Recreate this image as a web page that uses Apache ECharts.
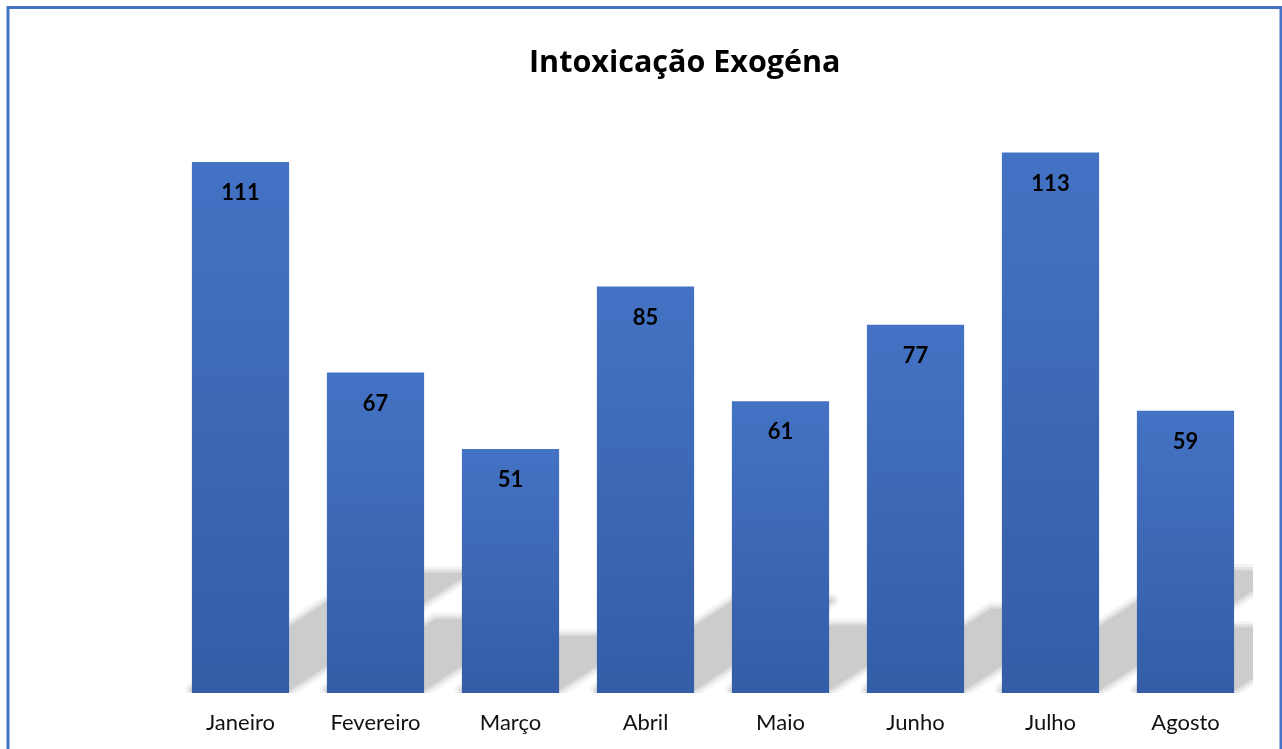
<!DOCTYPE html>
<html>
<head>
<meta charset="utf-8">
<script src="https://cdn.jsdelivr.net/npm/echarts@6/dist/echarts.min.js"></script>
<style>
html,body{margin:0;padding:0;background:#fff;}
#main{width:1282px;height:749px;}
</style>
</head>
<body>
<div id="main"></div>
<script>
const categories = ['Janeiro','Fevereiro','Março','Abril','Maio','Junho','Julho','Agosto'];
const values = [111, 67, 51, 85, 61, 77, 113, 59];
const titleText = 'Intoxicação Exogéna';

const chart = echarts.init(document.getElementById('main'), null, {renderer:'canvas'});
const shadowData = values.map((v,i)=>[i,v]);

const option = {
  backgroundColor:'#ffffff',
  animation:false,
  title:{
    text:titleText,
    left:524,
    top:40,
    textStyle:{fontFamily:'Open Sans',fontWeight:'bold',fontSize:30.5,color:'#000',lineHeight:36}
  },
  graphic:[{
    type:'rect',
    shape:{x:8,y:7.5,width:1273,height:760},
    style:{fill:'none',stroke:'#4472C4',lineWidth:3},
    z:100
  }],
  grid:{left:173,right:29,top:119,bottom:56},
  xAxis:{
    type:'category',
    data:categories,
    axisLine:{show:false},
    axisTick:{show:false},
    axisLabel:{fontFamily:'Lato',fontSize:22,color:'#111',margin:19}
  },
  yAxis:{
    type:'value',
    min:0,max:120,
    show:false,
    splitLine:{show:false}
  },
  series:[
    {
      type:'custom',
      z:1,
      clip:true,
      silent:true,
      data:shadowData,
      renderItem:function(params, api){
        const idx = api.value(0);
        const v = api.value(1);
        const base = api.coord([idx,0]);
        const top = api.coord([idx,v]);
        const bw = api.size([1,0])[0]*0.72;
        const x0 = base[0]-bw/2, x1 = base[0]+bw/2;
        const h = base[1]-top[1];
        const sh = h*0.22;
        const d = sh/0.65;
        const by = base[1]-3;
        const pts = [[x0,by],[x1,by],[x1+d,by-sh],[x0+d,by-sh]];
        return {
          type:'group',
          children:[
            {type:'polygon',shape:{points:pts},style:{fill:'none',stroke:'rgba(204,204,204,0.22)',lineWidth:14,lineJoin:'round'}},
            {type:'polygon',shape:{points:pts},style:{fill:'none',stroke:'rgba(204,204,204,0.4)',lineWidth:8,lineJoin:'round'}},
            {type:'polygon',shape:{points:pts},style:{fill:'#cccccc',stroke:'rgba(204,204,204,0.6)',lineWidth:3,lineJoin:'round'}}
          ]
        };
      }
    },
    {
      type:'bar',
      z:2,
      data:values,
      barWidth:'72%',
      itemStyle:{
        color:new echarts.graphic.LinearGradient(0,0,0,1,[
          {offset:0,color:'#4472C4'},
          {offset:1,color:'#345DA6'}
        ])
      },
      label:{
        show:true,
        position:'insideTop',
        distance:20,
        fontFamily:'Lato',
        fontWeight:'bold',
        fontSize:22,
        color:'#000'
      }
    }
  ]
};
chart.setOption(option);
</script>
</body>
</html>
